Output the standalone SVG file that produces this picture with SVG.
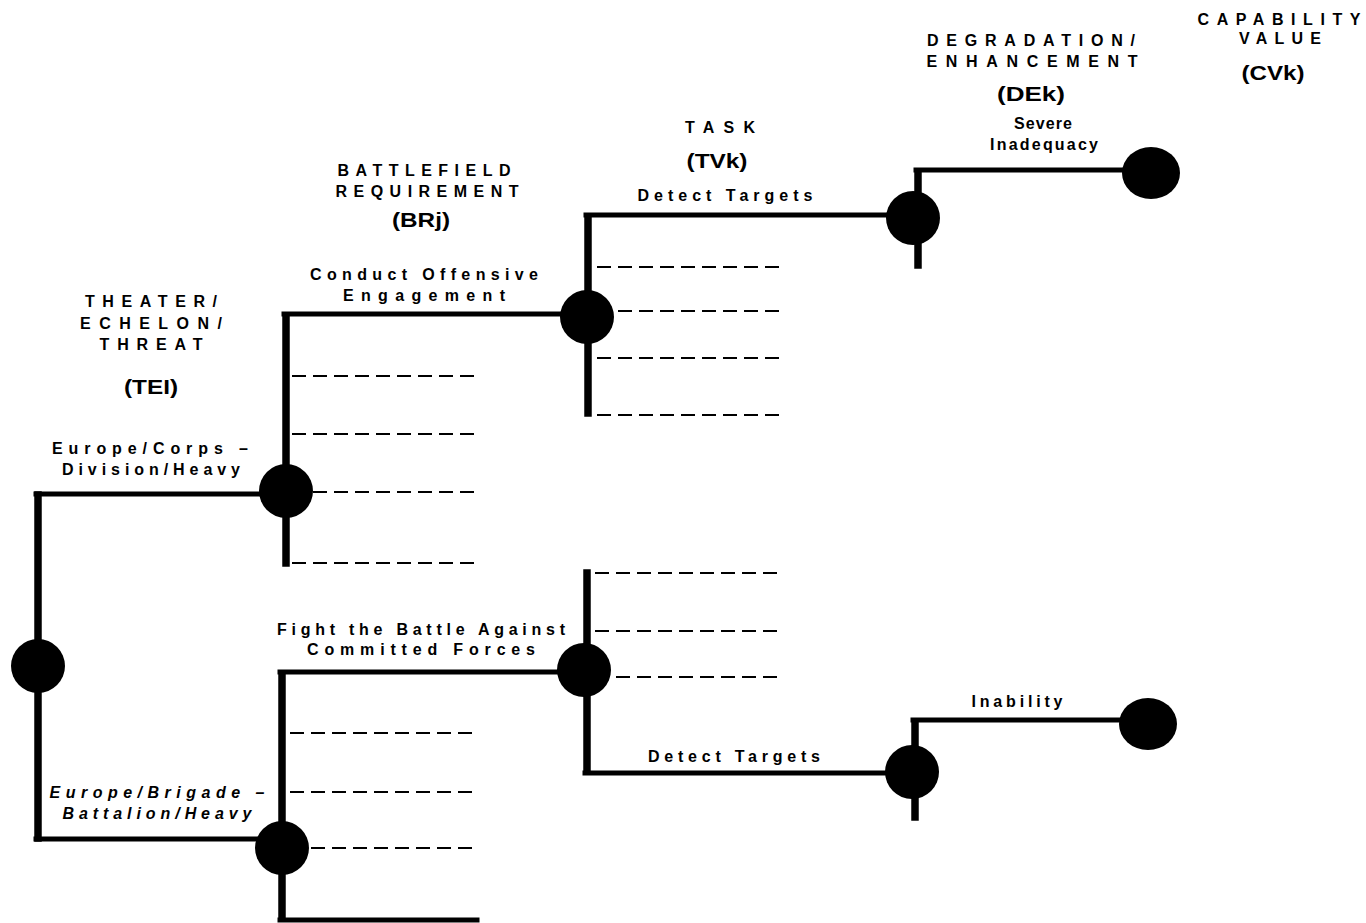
<svg xmlns="http://www.w3.org/2000/svg" width="1366" height="923" viewBox="0 0 1366 923">
  <style>
    .trunk { stroke: #000; stroke-width: 7.5; fill: none; stroke-linecap: square; }
    .branch { stroke: #000; stroke-width: 5; fill: none; stroke-linecap: square; }
    .stub { stroke: #000; stroke-width: 2; fill: none; stroke-dasharray: 14 7; }
    .node { fill: #000; }
    text { font-family: "Liberation Sans", Arial, Helvetica, sans-serif; font-weight: bold; fill: #000; text-anchor: middle; }
    .lbl { font-size: 16px; }
    .hdr { font-size: 16px; }
    .sym { font-size: 21px; }
    .it { font-style: italic; }
  </style>

  <rect width="1366" height="923" fill="#fff"/>

  <!-- tree connectors -->
  <g id="connectors">
    <!-- root trunk and its two branches -->
    <line class="trunk" x1="38" y1="495" x2="38" y2="838"/>
    <line class="branch" x1="36" y1="494" x2="286" y2="494"/>
    <line class="branch" x1="36" y1="839" x2="282" y2="839"/>

    <!-- upper battlefield requirement trunk -->
    <line class="trunk" x1="286" y1="316" x2="286" y2="563"/>
    <line class="branch" x1="284" y1="314" x2="588" y2="314"/>
    <line class="stub" x1="292" y1="376" x2="478" y2="376"/>
    <line class="stub" x1="292" y1="434" x2="478" y2="434"/>
    <line class="stub" x1="292" y1="492" x2="478" y2="492"/>
    <line class="stub" x1="292" y1="563" x2="478" y2="563"/>

    <!-- upper task trunk -->
    <line class="trunk" x1="588" y1="217" x2="588" y2="413"/>
    <line class="branch" x1="586" y1="215" x2="913" y2="215"/>
    <line class="stub" x1="597" y1="267" x2="780" y2="267"/>
    <line class="stub" x1="597" y1="311" x2="780" y2="311"/>
    <line class="stub" x1="597" y1="358" x2="780" y2="358"/>
    <line class="stub" x1="597" y1="415" x2="780" y2="415"/>

    <!-- upper degradation/enhancement -->
    <line class="trunk" x1="918" y1="172" x2="918" y2="265"/>
    <line class="branch" x1="916" y1="170" x2="1150" y2="170"/>

    <!-- lower battlefield requirement trunk -->
    <line class="trunk" x1="282" y1="674" x2="282" y2="918"/>
    <line class="branch" x1="280" y1="672" x2="584" y2="672"/>
    <line class="branch" x1="280" y1="920" x2="477" y2="920"/>
    <line class="stub" x1="290" y1="733" x2="477" y2="733"/>
    <line class="stub" x1="290" y1="792" x2="477" y2="792"/>
    <line class="stub" x1="290" y1="848" x2="477" y2="848"/>

    <!-- lower task trunk -->
    <line class="trunk" x1="587" y1="573" x2="587" y2="771"/>
    <line class="branch" x1="585" y1="773" x2="912" y2="773"/>
    <line class="stub" x1="595" y1="573" x2="780" y2="573"/>
    <line class="stub" x1="595" y1="631" x2="780" y2="631"/>
    <line class="stub" x1="595" y1="677" x2="780" y2="677"/>

    <!-- lower degradation/enhancement -->
    <line class="trunk" x1="915" y1="722" x2="915" y2="817"/>
    <line class="branch" x1="913" y1="720" x2="1148" y2="720"/>
  </g>

  <!-- decision nodes -->
  <g id="root-node"><circle class="node" cx="38" cy="666" r="27"/></g>
  <g id="br-upper-node"><circle class="node" cx="286" cy="491" r="27"/></g>
  <g id="br-lower-node"><circle class="node" cx="282" cy="848" r="27"/></g>
  <g id="task-upper-node"><circle class="node" cx="587" cy="317" r="27"/></g>
  <g id="task-lower-node"><circle class="node" cx="584" cy="670" r="27"/></g>
  <g id="de-upper-node"><circle class="node" cx="913" cy="218" r="27"/></g>
  <g id="de-lower-node"><circle class="node" cx="912" cy="772" r="27"/></g>
  <g id="cv-upper-node"><ellipse class="node" cx="1151" cy="173" rx="29" ry="26"/></g>
  <g id="cv-lower-node"><ellipse class="node" cx="1148" cy="724" rx="29" ry="26"/></g>

  <!-- column headings -->
  <g id="heading-tei">
    <text class="hdr" x="151" y="307" textLength="132" lengthAdjust="spacing">THEATER/</text>
    <text class="hdr" x="151" y="329" textLength="142" lengthAdjust="spacing">ECHELON/</text>
    <text class="hdr" x="151" y="350" textLength="103" lengthAdjust="spacing">THREAT</text>
    <text class="sym" x="151" y="394" textLength="54" lengthAdjust="spacingAndGlyphs">(TEI)</text>
  </g>
  <g id="heading-brj">
    <text class="hdr" x="424" y="176" textLength="173" lengthAdjust="spacing">BATTLEFIELD</text>
    <text class="hdr" x="427" y="197" textLength="183" lengthAdjust="spacing">REQUIREMENT</text>
    <text class="sym" x="421" y="227" textLength="58" lengthAdjust="spacingAndGlyphs">(BRj)</text>
  </g>
  <g id="heading-tvk">
    <text class="hdr" x="720" y="133" textLength="70" lengthAdjust="spacing">TASK</text>
    <text class="sym" x="717" y="168" textLength="61" lengthAdjust="spacingAndGlyphs">(TVk)</text>
  </g>
  <g id="heading-dek">
    <text class="hdr" x="1031" y="46" textLength="208" lengthAdjust="spacing">DEGRADATION/</text>
    <text class="hdr" x="1032" y="67" textLength="211" lengthAdjust="spacing">ENHANCEMENT</text>
    <text class="sym" x="1031" y="101" textLength="68" lengthAdjust="spacingAndGlyphs">(DEk)</text>
  </g>
  <g id="heading-cvk">
    <text class="hdr" x="1279" y="25" textLength="163" lengthAdjust="spacing">CAPABILITY</text>
    <text class="hdr" x="1280" y="44" textLength="82" lengthAdjust="spacing">VALUE</text>
    <text class="sym" x="1273" y="80" textLength="63" lengthAdjust="spacingAndGlyphs">(CVk)</text>
  </g>

  <!-- branch labels -->
  <g id="label-europe-corps">
    <text class="lbl" x="150" y="454" textLength="196" lengthAdjust="spacing">Europe/Corps –</text>
    <text class="lbl" x="151" y="475" textLength="178" lengthAdjust="spacing">Division/Heavy</text>
  </g>
  <g id="label-europe-brigade">
    <text class="lbl it" x="157" y="798" textLength="215" lengthAdjust="spacing">Europe/Brigade –</text>
    <text class="lbl it" x="157" y="819" textLength="189" lengthAdjust="spacing">Battalion/Heavy</text>
  </g>
  <g id="label-offensive">
    <text class="lbl" x="424" y="280" textLength="228" lengthAdjust="spacing">Conduct Offensive</text>
    <text class="lbl" x="424" y="301" textLength="162" lengthAdjust="spacing">Engagement</text>
  </g>
  <g id="label-committed">
    <text class="lbl" x="421" y="635" textLength="288" lengthAdjust="spacing">Fight the Battle Against</text>
    <text class="lbl" x="421" y="655" textLength="228" lengthAdjust="spacing">Committed Forces</text>
  </g>
  <g id="label-detect-upper">
    <text class="lbl" x="725" y="201" textLength="175" lengthAdjust="spacing">Detect Targets</text>
  </g>
  <g id="label-detect-lower">
    <text class="lbl" x="734" y="762" textLength="172" lengthAdjust="spacing">Detect Targets</text>
  </g>
  <g id="label-severe">
    <text class="lbl" x="1043" y="129" textLength="58" lengthAdjust="spacing">Severe</text>
    <text class="lbl" x="1044" y="150" textLength="108" lengthAdjust="spacing">Inadequacy</text>
  </g>
  <g id="label-inability">
    <text class="lbl" x="1017" y="707" textLength="91" lengthAdjust="spacing">Inability</text>
  </g>
</svg>
